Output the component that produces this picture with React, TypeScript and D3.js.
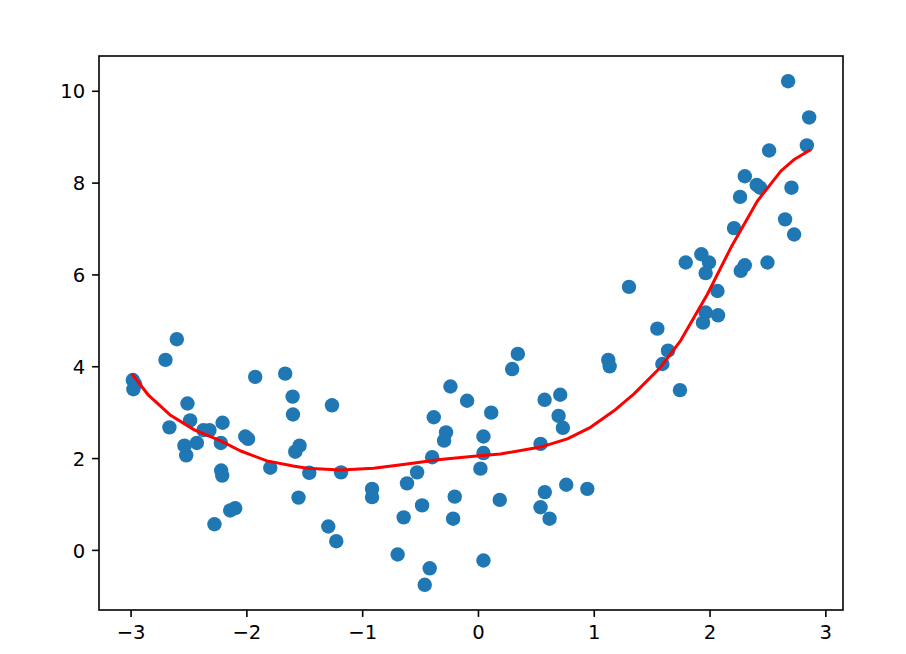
import React from "react";
import * as d3 from "d3";

const pointsX: number[] = [
  -2.605, -2.703, -2.985, -2.965, -2.98, -2.513, -2.49, -2.669, -2.375, -2.323,
  -2.21, -2.539, -2.432, -2.524, -2.225, -2.014, -1.99, -1.928, -1.669, -1.605,
  -1.602, -1.545, -1.582, -1.798, -1.461, -1.265, -1.187, -2.222, -2.213, -1.554,
  -2.144, -2.101, -2.28, -1.297, -1.228,
  -0.242, -0.098, 0.11, -0.386, -0.28, -0.297, 0.043, -0.4, 0.043, -0.53,
  -0.617, 0.017, -0.919, -0.919, -0.205, -0.487, -0.646, -0.219, 0.184, -0.698,
  -0.421, -0.464, 0.043,
  0.34, 0.291, 1.121, 1.133, 0.571, 0.706, 0.692, 0.729, 0.536, 0.573,
  0.758, 0.94, 0.536, 0.614,
  2.674, 2.856, 2.836, 2.51, 2.3, 2.403, 2.432, 2.703, 2.259, 2.207,
  2.648, 2.726, 1.79, 1.925, 1.991, 1.962, 2.265, 2.3, 2.496, 1.3,
  2.064, 1.962, 1.939, 2.069, 1.545, 1.637, 1.588, 1.74,
];

const pointsY: number[] = [
  4.6, 4.15, 3.71, 3.62, 3.51, 3.2, 2.83, 2.68, 2.62, 2.62,
  2.78, 2.28, 2.34, 2.07, 2.34, 2.48, 2.43, 3.78, 3.85, 3.35,
  2.96, 2.28, 2.15, 1.8, 1.69, 3.16, 1.7, 1.74, 1.63, 1.15,
  0.87, 0.92, 0.57, 0.52, 0.2,
  3.57, 3.26, 3.0, 2.9, 2.57, 2.39, 2.48, 2.03, 2.12, 1.7,
  1.46, 1.78, 1.34, 1.16, 1.17, 0.98, 0.72, 0.69, 1.1, -0.09,
  -0.39, -0.75, -0.22,
  4.28, 3.95, 4.15, 4.01, 3.28, 3.39, 2.93, 2.67, 2.32, 1.27,
  1.43, 1.34, 0.94, 0.69,
  10.22, 9.43, 8.82, 8.71, 8.15, 7.96, 7.9, 7.9, 7.7, 7.02,
  7.21, 6.88, 6.27, 6.45, 6.27, 6.04, 6.09, 6.21, 6.27, 5.74,
  5.65, 5.18, 4.96, 5.12, 4.83, 4.35, 4.06, 3.49,
];

const curveX: number[] = [
  -2.985, -2.85, -2.663, -2.45, -2.23, -2.058, -1.827, -1.6, -1.48, -1.19,
  -0.905, -0.617, -0.33, -0.04, 0.19, 0.536, 0.767, 0.968, 1.17, 1.343,
  1.573, 1.746, 1.977, 2.179, 2.409, 2.611, 2.73, 2.856,
];
const curveY: number[] = [
  3.82, 3.38, 2.95, 2.62, 2.39, 2.17, 1.95, 1.84, 1.79, 1.75,
  1.79, 1.88, 1.98, 2.05, 2.1, 2.25, 2.43, 2.68, 3.04, 3.41,
  3.99, 4.57, 5.58, 6.59, 7.61, 8.26, 8.52, 8.71,
];

const xTicks: number[] = [-3, -2, -1, 0, 1, 2, 3];
const yTicks: number[] = [0, 2, 4, 6, 8, 10];

const W = 906;
const H = 654;
const L = 99;
const R = 843;
const T = 56;
const B = 610;
const FONT = 19.6;

function fmt(v: number) {
  return v < 0 ? "\u2212" + Math.abs(v) : String(v);
}

export default function App() {
  const [x0, x1] = d3.extent(pointsX) as [number, number];
  const [y0, y1] = d3.extent(pointsY) as [number, number];
  const mx = (x1 - x0) * 0.05;
  const my = (y1 - y0) * 0.05;
  const x = d3.scaleLinear().domain([x0 - mx, x1 + mx]).range([L, R]);
  const y = d3.scaleLinear().domain([y0 - my, y1 + my]).range([B, T]);

  const pts = pointsX.map((v, i) => [v, pointsY[i]] as [number, number]);
  const cpts = curveX.map((v, i) => [v, curveY[i]] as [number, number]);
  const line = d3
    .line<[number, number]>()
    .x((d) => x(d[0]))
    .y((d) => y(d[1]));

  const tickLen = 6.9;
  const pad = 6.9;

  return (
    <svg
      width={W}
      height={H}
      style={{ position: "absolute", left: 0, top: 0, background: "#fff" }}
      fontFamily="DejaVu Sans"
    >
      <rect x={0} y={0} width={W} height={H} fill="#fff" />
      <g>
        {pts.map((d, i) => (
          <circle key={i} cx={x(d[0])} cy={y(d[1])} r={7.2} fill="#1f77b4" />
        ))}
      </g>
      <path d={line(cpts) || ""} fill="none" stroke="#ff0000" strokeWidth={3} strokeLinejoin="round" strokeLinecap="square" />
      <rect x={L} y={T} width={R - L} height={B - T} fill="none" stroke="#000" strokeWidth={1.6} />
      {xTicks.map((t) => (
        <g key={"x" + t}>
          <line x1={x(t)} x2={x(t)} y1={B} y2={B + tickLen} stroke="#000" strokeWidth={1.6} />
          <text x={x(t)} y={B + tickLen + pad + 15} textAnchor="middle" fontSize={FONT} fill="#000">
            {fmt(t)}
          </text>
        </g>
      ))}
      {yTicks.map((t) => (
        <g key={"y" + t}>
          <line x1={L - tickLen} x2={L} y1={y(t)} y2={y(t)} stroke="#000" strokeWidth={1.6} />
          <text x={L - tickLen - pad} y={y(t) + 7.2} textAnchor="end" fontSize={FONT} fill="#000">
            {fmt(t)}
          </text>
        </g>
      ))}
    </svg>
  );
}
